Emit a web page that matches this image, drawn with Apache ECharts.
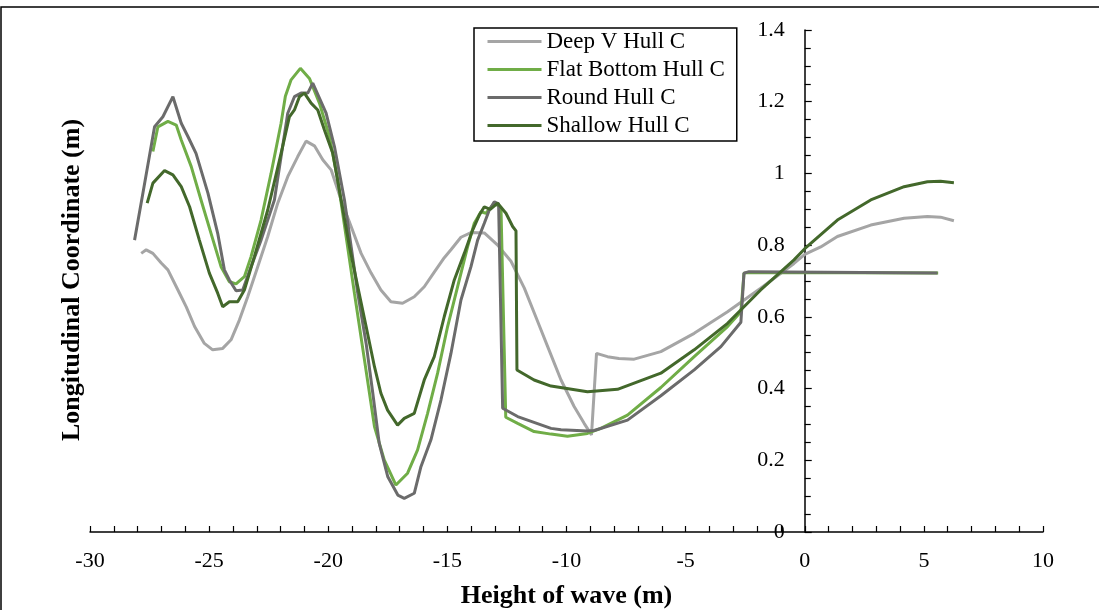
<!DOCTYPE html>
<html>
<head>
<meta charset="utf-8">
<script src="https://cdn.jsdelivr.net/npm/echarts@6/dist/echarts.min.js"></script>
<style>html,body{margin:0;padding:0;background:#fff}#c{width:1099px;height:610px}</style>
</head>
<body>
<div id="c"></div>
<script>
const seriesNames = ['Deep V Hull C', 'Flat Bottom Hull C', 'Round Hull C', 'Shallow Hull C'];
const xTicks = { min: -30, max: 10, interval: 5 };
const yTicks = { min: 0, max: 1.4, interval: 0.2 };

const deepVX = [-27.85,-27.64,-27.36,-27.01,-26.73,-26.31,-25.96,-25.61,-25.2,-24.85,-24.43,-24.08,-23.73,-23.38,-22.96,-22.54,-22.12,-21.7,-21.28,-20.93,-20.58,-20.23,-19.88,-19.46,-19.04,-18.62,-18.2,-17.79,-17.37,-16.88,-16.39,-15.97,-15.55,-15.13,-14.85,-14.43,-14.01,-13.45,-12.89,-12.33,-11.77,-11.21,-10.79,-10.23,-9.68,-9.26,-8.95,-8.74,-8.28,-7.8,-7.16,-6.04,-4.64,-3.24,-1.85,-0.45,0,0.67,1.37,2.77,4.17,5.15,5.7,6.26];
const deepVY = [0.777,0.787,0.777,0.75,0.731,0.675,0.628,0.573,0.526,0.508,0.512,0.536,0.591,0.656,0.74,0.824,0.917,0.991,1.047,1.09,1.077,1.038,1.01,0.926,0.852,0.777,0.722,0.675,0.642,0.638,0.656,0.684,0.725,0.765,0.787,0.822,0.835,0.834,0.8,0.755,0.68,0.587,0.517,0.424,0.35,0.303,0.271,0.498,0.489,0.484,0.482,0.503,0.554,0.614,0.68,0.749,0.774,0.795,0.824,0.856,0.875,0.88,0.878,0.868];

const flatX = [-27.36,-27.15,-26.73,-26.38,-26.17,-25.75,-25.34,-24.92,-24.5,-24.15,-23.87,-23.52,-23.24,-22.82,-22.4,-21.98,-21.8,-21.56,-21.17,-20.79,-20.37,-19.95,-19.6,-19.25,-18.9,-18.48,-18.06,-17.65,-17.16,-16.67,-16.25,-15.83,-15.41,-14.99,-14.57,-14.15,-13.87,-13.59,-13.38,-13.03,-12.75,-12.55,-12.05,-11.36,-10.65,-9.96,-9.12,-8.56,-7.44,-6.04,-4.64,-3.24,-2.68,-2.55,-2.34,5.6];
const flatY = [1.061,1.13,1.145,1.135,1.093,1.019,0.926,0.833,0.74,0.698,0.692,0.712,0.768,0.87,1.0,1.14,1.215,1.261,1.293,1.265,1.196,1.103,0.982,0.824,0.666,0.48,0.294,0.201,0.131,0.164,0.229,0.331,0.443,0.573,0.684,0.796,0.861,0.893,0.889,0.917,0.905,0.32,0.303,0.28,0.273,0.267,0.275,0.289,0.326,0.403,0.489,0.573,0.614,0.722,0.724,0.722];

const roundX = [-28.13,-27.78,-27.29,-26.94,-26.52,-26.17,-25.89,-25.55,-25.05,-24.64,-24.36,-24.15,-23.87,-23.59,-23.24,-22.82,-22.26,-21.7,-21.42,-21.14,-20.86,-20.65,-20.09,-19.74,-19.32,-19.04,-18.76,-18.41,-18.13,-17.86,-17.5,-17.08,-16.81,-16.39,-16.11,-15.69,-15.27,-14.85,-14.43,-14.01,-13.73,-13.45,-13.24,-13.03,-12.85,-12.68,-12.05,-10.65,-10.23,-9.12,-8.84,-7.44,-6.04,-4.64,-3.52,-2.68,-2.55,-2.34,5.57];
const roundY = [0.814,0.945,1.13,1.158,1.214,1.14,1.103,1.056,0.945,0.833,0.731,0.703,0.673,0.675,0.74,0.814,0.926,1.168,1.214,1.224,1.224,1.252,1.168,1.075,0.926,0.796,0.666,0.526,0.387,0.247,0.154,0.103,0.094,0.108,0.182,0.257,0.368,0.498,0.647,0.74,0.814,0.861,0.898,0.921,0.915,0.345,0.322,0.289,0.285,0.282,0.283,0.312,0.38,0.452,0.517,0.585,0.722,0.726,0.722];

const shallowX = [-27.6,-27.36,-26.87,-26.52,-26.17,-25.82,-25.41,-24.99,-24.64,-24.43,-24.15,-23.8,-23.52,-23.1,-22.54,-21.98,-21.63,-21.42,-21.21,-21.0,-20.72,-20.44,-20.16,-19.81,-19.46,-19.11,-18.76,-18.41,-18.06,-17.79,-17.51,-17.09,-16.81,-16.39,-15.97,-15.55,-15.13,-14.71,-14.29,-13.94,-13.66,-13.45,-13.2,-12.89,-12.54,-12.26,-12.12,-12.08,-11.36,-10.65,-9.12,-7.86,-6.04,-4.64,-3.24,-1.85,-0.45,0,1.37,2.77,4.17,5.15,5.7,6.26];
const shallowY = [0.917,0.973,1.008,0.996,0.963,0.907,0.814,0.722,0.666,0.628,0.642,0.642,0.675,0.768,0.898,1.056,1.158,1.177,1.214,1.224,1.196,1.177,1.121,1.056,0.926,0.796,0.684,0.573,0.461,0.387,0.34,0.298,0.317,0.331,0.424,0.489,0.601,0.703,0.777,0.842,0.884,0.907,0.9,0.917,0.889,0.852,0.84,0.452,0.424,0.407,0.391,0.398,0.443,0.508,0.582,0.675,0.759,0.79,0.87,0.926,0.963,0.977,0.978,0.974];

const colors = ['#A5A5A5', '#70AD47', '#6B6B6B', '#43682B'];
const xs = [deepVX, flatX, roundX, shallowX];
const ys = [deepVY, flatY, roundY, shallowY];

const font = '"Liberation Serif", "Times New Roman", serif';
const W = 1099, gridLeft = 90, gridRight = 56;
const gridWidth = W - gridLeft - gridRight;
// place the y axis at x = 0 (line, ticks and labels together)
const yAxisOffset = -gridWidth * (0 - xTicks.min) / (xTicks.max - xTicks.min);

const chart = echarts.init(document.getElementById('c'));
chart.setOption({
  animation: false,
  backgroundColor: '#fff',
  grid: { left: gridLeft, right: gridRight, top: 30, bottom: 78, containLabel: false, outerBoundsMode: 'none' },
  legend: {
    orient: 'vertical', left: 474, top: 28,
    padding: [2, 12, 4, 12], itemGap: 5, itemWidth: 54, itemHeight: 20,
    borderColor: '#000', borderWidth: 1.5, backgroundColor: '#fff',
    itemStyle: { opacity: 0 },
    lineStyle: { width: 3 },
    textStyle: { fontFamily: font, fontSize: 23, color: '#000' },
    data: seriesNames
  },
  xAxis: {
    type: 'value', min: xTicks.min, max: xTicks.max, interval: xTicks.interval,
    axisLine: { onZero: true, lineStyle: { color: '#000', width: 1.5 } },
    axisTick: { inside: true, length: 6, lineStyle: { color: '#000', width: 1.2 } },
    minorTick: { show: true, splitNumber: 5, length: 6, lineStyle: { color: '#000', width: 1.2 } },
    splitLine: { show: false },
    axisLabel: { fontFamily: font, fontSize: 22, color: '#000', margin: 18 },
    name: 'Height of wave (m)', nameLocation: 'middle', nameGap: 51,
    nameTextStyle: { fontFamily: font, fontSize: 26, fontWeight: 'bold', color: '#000' }
  },
  yAxis: {
    type: 'value', min: yTicks.min, max: yTicks.max, interval: yTicks.interval,
    offset: yAxisOffset,
    axisLine: { show: true, onZero: false, lineStyle: { color: '#000', width: 1.5 } },
    axisTick: { show: true, inside: true, length: 7, lineStyle: { color: '#000', width: 1.2 } },
    minorTick: { show: true, splitNumber: 4, length: 6, lineStyle: { color: '#000', width: 1.2 } },
    splitLine: { show: false },
    axisLabel: { fontFamily: font, fontSize: 22, color: '#000', margin: 20 }
  },
  graphic: [
    { type: 'rect', silent: true, z: -1, shape: { x: 1, y: 7, width: 1200, height: 800 }, style: { fill: 'none', stroke: '#000', lineWidth: 1.5 } },
    { type: 'text', x: 72, y: 280, rotation: Math.PI / 2, style: { text: 'Longitudinal Coordinate (m)', font: 'bold 26px ' + font, fill: '#000', textAlign: 'center', textVerticalAlign: 'middle' } }
  ],
  series: seriesNames.map((n, i) => ({
    name: n, type: 'line', symbol: 'none', smooth: false,
    color: colors[i],
    lineStyle: { width: 3, color: colors[i] },
    data: xs[i].map((x, j) => [x, ys[i][j]])
  }))
});
</script>
</body>
</html>
